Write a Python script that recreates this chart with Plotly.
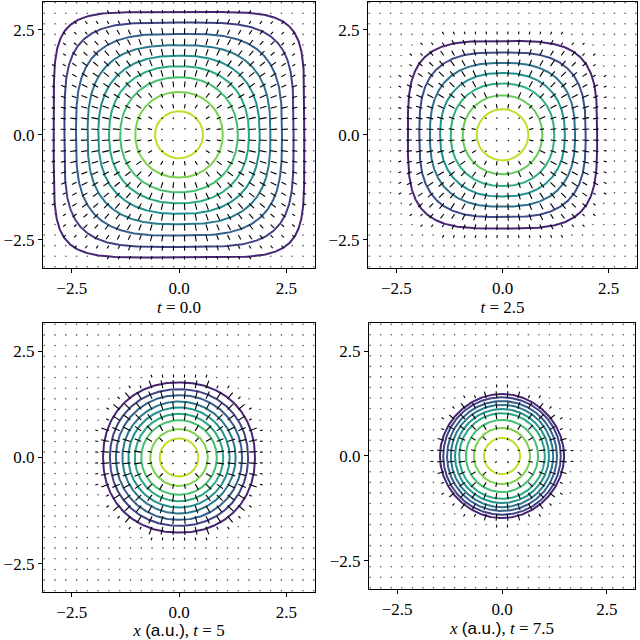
import numpy as np
import plotly.graph_objects as go
from plotly.colors import sample_colorscale

# snapshot labels
panel_titles = [
    "<i>t</i> = 0.0",
    "<i>t</i> = 2.5",
    "<i>x</i> <span style='font-family:Liberation Sans'>(a.u.)</span>, <i>t</i> = 5",
    "<i>x</i> <span style='font-family:Liberation Sans'>(a.u.)</span>, <i>t</i> = 7.5",
]

# contour half-widths (outermost -> innermost)
radii_t0 = [2.92, 2.67, 2.40, 2.13, 1.88, 1.63, 1.37, 1.02, 0.56]
radii_t25 = [2.23, 1.96, 1.71, 1.47, 1.22, 0.94, 0.61]
radii_t5 = [1.77, 1.61, 1.47, 1.32, 1.18, 1.03, 0.88, 0.67, 0.45]
radii_t75 = [1.48, 1.40, 1.31, 1.22, 1.12, 1.02, 0.86, 0.67, 0.43]

# squareness of each contour (2 = circle, larger = more square)
square_t0 = [5.5, 4.0, 3.2, 2.8, 2.5, 2.3, 2.15, 2.05, 2.0]
square_t25 = [3.6, 3.0, 2.6, 2.35, 2.2, 2.05, 2.0]
square_t5 = [2.15, 2.1, 2.05, 2.0, 2.0, 2.0, 2.0, 2.0, 2.0]
square_t75 = [1.95, 2.0, 2.0, 2.0, 2.0, 2.0, 2.0, 2.0, 2.0]

# arrow length per band: index = number of contours enclosing the grid point
arrows_t0 = [0.0, 0.08, 0.12, 0.15, 0.16, 0.16, 0.16, 0.14, 0.10, 0.04]
arrows_t25 = [0.07, 0.13, 0.16, 0.16, 0.16, 0.14, 0.10, 0.04]
arrows_t5 = [0.07, 0.19, 0.19, 0.19, 0.19, 0.18, 0.17, 0.15, 0.11, 0.04]
arrows_t75 = [0.07, 0.16, 0.16, 0.16, 0.16, 0.16, 0.15, 0.13, 0.11, 0.05]

# how far outside the outermost contour the arrows still reach
halo = [0.0, 0.25, 0.2, 0.2]

grid = np.linspace(-np.pi, np.pi, 26)

panels = [
    (radii_t0, square_t0, arrows_t0),
    (radii_t25, square_t25, arrows_t25),
    (radii_t5, square_t5, arrows_t5),
    (radii_t75, square_t75, arrows_t75),
]

domains = [
    ([0.0672, 0.4922], [0.5813, 0.9976]),
    ([0.5750, 0.9953], [0.5813, 0.9976]),
    ([0.0672, 0.4922], [0.0750, 0.4953]),
    ([0.5766, 0.9922], [0.0797, 0.4953]),
]


def superellipse(a, n, m=361):
    th = np.linspace(0, 2 * np.pi, m)
    c, s = np.cos(th), np.sin(th)
    return (a * np.sign(c) * np.abs(c) ** (2 / n),
            a * np.sign(s) * np.abs(s) ** (2 / n))


def inside(x, y, a, n):
    return (np.abs(x) / a) ** n + (np.abs(y) / a) ** n < 1


fig = go.Figure()
gx, gy = np.meshgrid(grid, grid)
gx, gy = gx.ravel(), gy.ravel()

for i, (radii, sq, lens) in enumerate(panels):
    xa = "x" if i == 0 else f"x{i + 1}"
    ya = "y" if i == 0 else f"y{i + 1}"
    cols = sample_colorscale("Viridis", list(np.linspace(0.1, 0.9, len(radii))))

    for r, n, col in zip(radii, sq, cols):
        cx, cy = superellipse(r, n)
        fig.add_trace(go.Scatter(x=cx, y=cy, mode="lines", xaxis=xa, yaxis=ya,
                                 line=dict(color=col, width=2), hoverinfo="skip",
                                 showlegend=False))

    band = np.zeros(gx.shape, dtype=int)
    for r, n in zip(radii, sq):
        band += inside(gx, gy, r, n)
    length = np.array(lens)[band]
    near = inside(gx, gy, radii[0] + halo[i], sq[0])
    length[(band == 0) & ~near] = 0.0
    if halo[i] == 0:
        length[band == 0] = 0.0

    rr = np.hypot(gx, gy)
    ux, uy = gx / rr, gy / rr
    ax, ay = [], []
    for x0, y0, L, dx, dy in zip(gx, gy, length, ux, uy):
        if L > 0:
            ax += [x0, x0 + L * dx, None]
            ay += [y0, y0 + L * dy, None]
    fig.add_trace(go.Scatter(x=ax, y=ay, mode="lines", xaxis=xa, yaxis=ya,
                             line=dict(color="black", width=1.1), hoverinfo="skip",
                             showlegend=False))
    dots = length == 0
    fig.add_trace(go.Scatter(x=gx[dots], y=gy[dots], mode="markers", xaxis=xa, yaxis=ya,
                             marker=dict(color="#555555", size=1.6), hoverinfo="skip",
                             showlegend=False))

axis_style = dict(
    range=[-3.17, 3.17], showgrid=False, zeroline=False,
    showline=True, linecolor="black", linewidth=1.3, mirror=True,
    ticks="outside", ticklen=4, tickcolor="black", tickwidth=1,
    tickvals=[-2.5, 0.0, 2.5], tickformat=".1f",
    tickfont=dict(family="Liberation Serif", size=17, color="black"),
)

layout = dict(
    width=640, height=640, margin=dict(l=0, r=0, t=0, b=0),
    paper_bgcolor="white", plot_bgcolor="white", showlegend=False,
)
for i, (dx, dy) in enumerate(domains):
    k = "" if i == 0 else str(i + 1)
    layout[f"xaxis{k}"] = dict(axis_style, domain=dx, anchor=f"y{k}",
                               title=dict(text=panel_titles[i], standoff=4,
                                          font=dict(family="Liberation Serif", size=17,
                                                    color="black")))
    layout[f"yaxis{k}"] = dict(axis_style, domain=dy, anchor=f"x{k}")

fig.update_layout(**layout)
fig.write_html("out.html", config={"displayModeBar": False},
               post_script="document.body.style.margin='0px';")
